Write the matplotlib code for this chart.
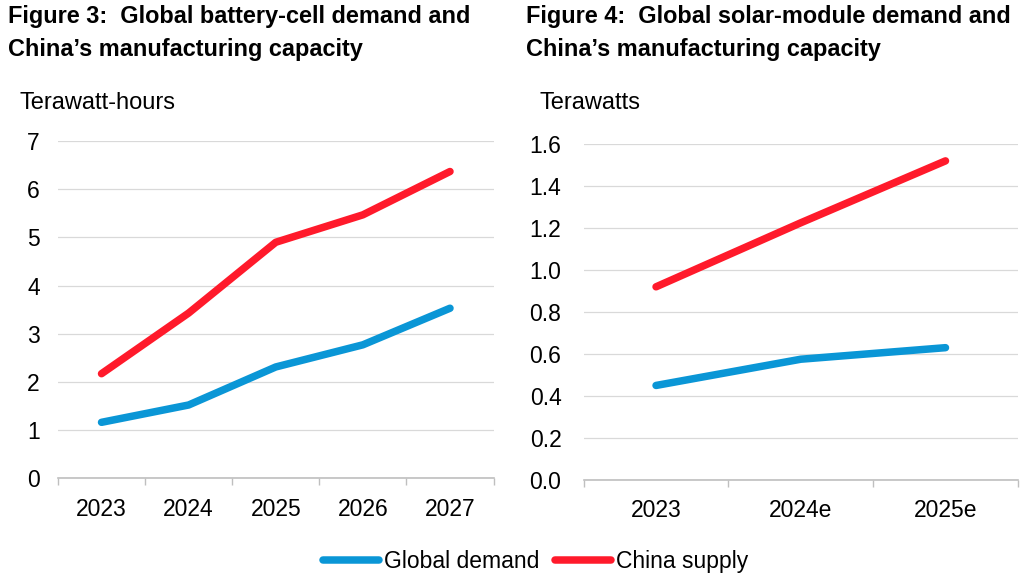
import matplotlib.pyplot as plt
import matplotlib
import numpy as np

matplotlib.rcParams['font.family'] = ['Liberation Sans', 'DejaVu Sans']

BLUE = "#0a96d6"
RED = "#ff1a2b"

# battery cells, terawatt-hours
bat_years = ["2023", "2024", "2025", "2026", "2027"]
bat_demand = [1.16, 1.52, 2.31, 2.77, 3.53]
bat_supply = [2.17, 3.43, 4.90, 5.47, 6.37]

# solar modules, terawatts
sol_years = ["2023", "2024e", "2025e"]
sol_demand = [0.45, 0.575, 0.63]
sol_supply = [0.92, 1.225, 1.52]


def style_axes(ax, cats, ymax, step, fmt, ypad):
    x = np.arange(len(cats))
    ax.set_xlim(-0.5, len(cats) - 0.5)
    ax.set_ylim(0, ymax)
    ax.set_xticks(x)
    ax.set_xticklabels(cats)
    ax.set_xticks(np.arange(len(cats) + 1) - 0.5, minor=True)
    ax.tick_params(axis="x", which="major", length=0, pad=14, labelsize=16.5)
    ax.tick_params(axis="x", which="minor", length=5, color="#bfbfbf", width=1)
    yt = np.arange(0, ymax + step / 2, step)
    ax.set_yticks(yt)
    ax.set_yticklabels([fmt.format(v) for v in yt])
    ax.tick_params(axis="y", length=0, pad=ypad, labelsize=16.5)
    ax.grid(axis="y", color="#d9d9d9", linewidth=0.9)
    ax.set_axisbelow(True)
    for s in ["top", "right", "left"]:
        ax.spines[s].set_visible(False)
    ax.spines["bottom"].set_color("#bfbfbf")
    ax.spines["bottom"].set_linewidth(1.2)


fig = plt.figure(figsize=(10.24, 5.81), dpi=100)

ax1 = fig.add_axes([0.0566, 0.177, 0.4254, 0.580])
x1 = np.arange(len(bat_years))
ax1.plot(x1, bat_demand, color=BLUE, linewidth=5.4, solid_capstyle="round", label="Global demand")
ax1.plot(x1, bat_supply, color=RED, linewidth=5.4, solid_capstyle="round", label="China supply")
style_axes(ax1, bat_years, 7, 1, "{:.0f}", 13)

ax2 = fig.add_axes([0.570, 0.174, 0.424, 0.578])
x2 = np.arange(len(sol_years))
ax2.plot(x2, sol_demand, color=BLUE, linewidth=5.4, solid_capstyle="round")
ax2.plot(x2, sol_supply, color=RED, linewidth=5.4, solid_capstyle="round")
style_axes(ax2, sol_years, 1.6, 0.2, "{:.1f}", 16)

fig.text(0.008, 0.972, "Figure 3:  Global battery-cell demand and",
         fontsize=16.9, fontweight="bold", va="center", ha="left")
fig.text(0.008, 0.914, "China\u2019s manufacturing capacity",
         fontsize=16.9, fontweight="bold", va="center", ha="left")
fig.text(0.514, 0.972, "Figure 4:  Global solar-module demand and",
         fontsize=16.9, fontweight="bold", va="center", ha="left")
fig.text(0.514, 0.914, "China\u2019s manufacturing capacity",
         fontsize=16.9, fontweight="bold", va="center", ha="left")
fig.text(0.019, 0.823, "Terawatt-hours", fontsize=17, va="center", ha="left")
fig.text(0.527, 0.823, "Terawatts", fontsize=17, va="center", ha="left")

fig.legend(loc="center", bbox_to_anchor=(0.523, 0.034), ncol=2, frameon=False,
           fontsize=16.5, handlelength=2.45, handletextpad=0.2, columnspacing=0.7)

fig.savefig("out.png", dpi=100)
